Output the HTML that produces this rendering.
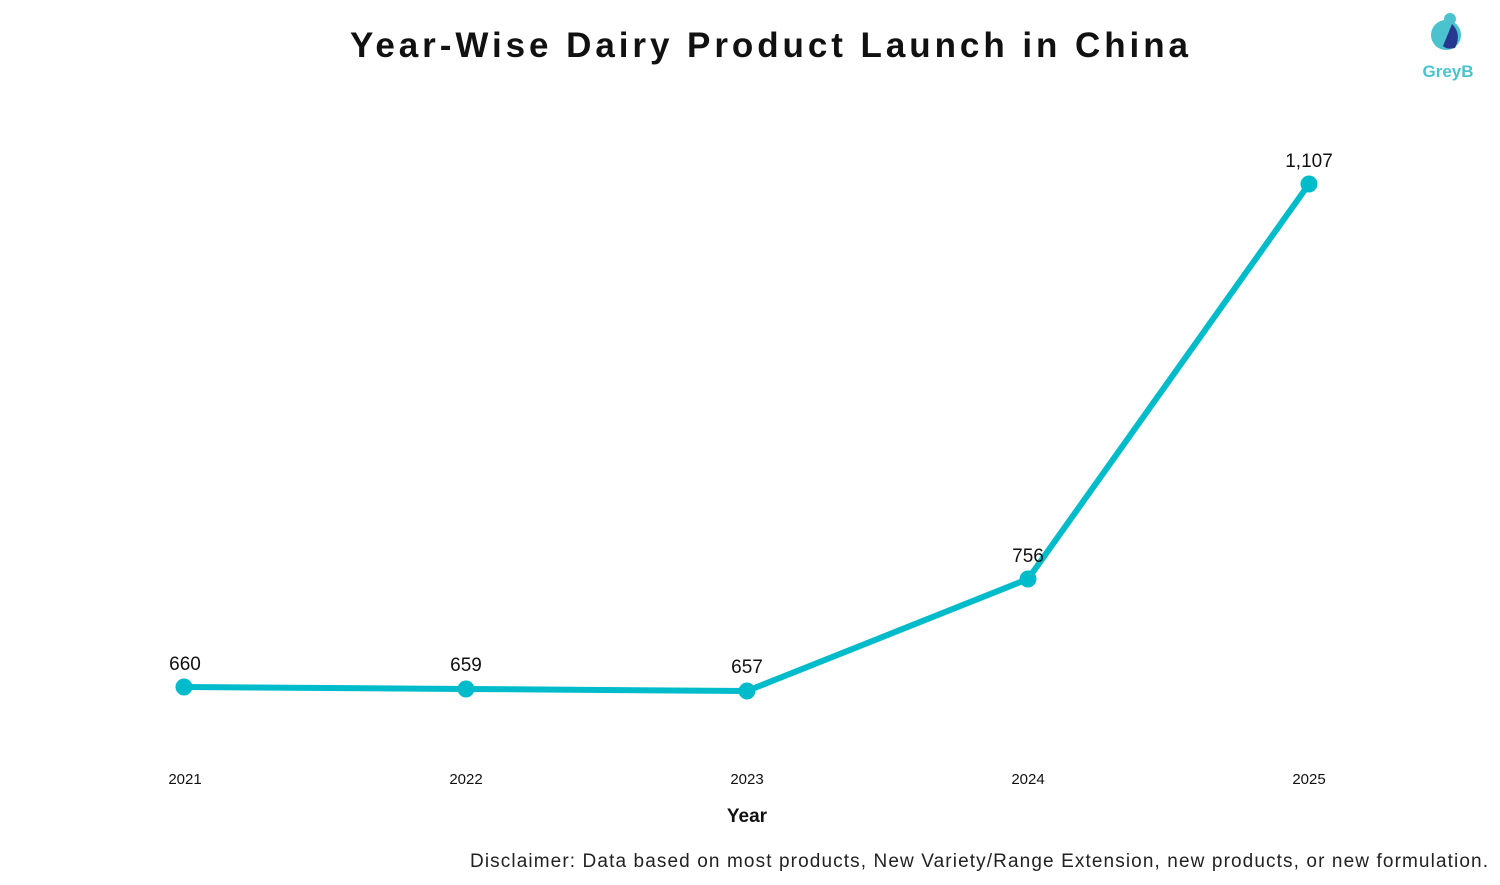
<!DOCTYPE html>
<html><head><style>
body{margin:0;background:#fff;}
svg text{font-family:"Liberation Sans",sans-serif;}
</style></head><body>
<svg width="1500" height="880" viewBox="0 0 1500 880">
<text x="350" y="57" font-size="35" font-weight="bold" textLength="838" lengthAdjust="spacing" fill="#111">Year-Wise Dairy Product Launch in China</text>
<g>
<circle cx="1446" cy="35" r="15" fill="#4ac3cf"/>
<circle cx="1450" cy="19" r="6" fill="#4ac3cf"/>
<path d="M1452 24 Q1462 34 1455 48 Q1447 50 1443 46 Z" fill="#27378f"/>
<text x="1448" y="77" text-anchor="middle" font-size="17" font-weight="bold" fill="#4ac3cf">GreyB</text>
</g>
<polyline points="184,687 466,689 747,691 1028,579 1309,184" fill="none" stroke="#00bccb" stroke-width="6" stroke-linejoin="round"/>
<g fill="#00bccb">
<circle cx="184" cy="687" r="8.5"/><circle cx="466" cy="689" r="8.5"/><circle cx="747" cy="691" r="8.5"/><circle cx="1028" cy="579" r="8.5"/><circle cx="1309" cy="184" r="8.5"/>
</g>
<g font-size="19" fill="#111" text-anchor="middle">
<text x="185" y="670">660</text><text x="466" y="671">659</text><text x="747" y="673">657</text><text x="1028" y="562">756</text><text x="1309" y="167">1,107</text>
</g>
<g font-size="15" fill="#111" text-anchor="middle">
<text x="185" y="784">2021</text><text x="466" y="784">2022</text><text x="747" y="784">2023</text><text x="1028" y="784">2024</text><text x="1309" y="784">2025</text>
</g>
<text x="747" y="822" text-anchor="middle" font-size="19" font-weight="bold" fill="#111">Year</text>
<text x="470" y="867" font-size="19" textLength="1018" lengthAdjust="spacing" fill="#222">Disclaimer: Data based on most products, New Variety/Range Extension, new products, or new formulation.</text>
</svg>
</body></html>
